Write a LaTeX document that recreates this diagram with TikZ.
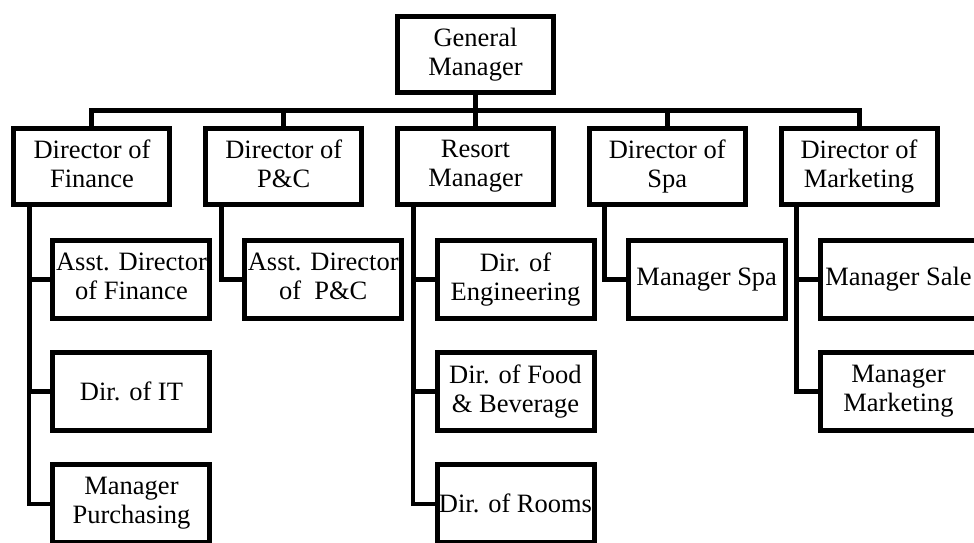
\documentclass[tikz,border=0pt]{standalone}
\usepackage{fontspec}
\setmainfont{Liberation Serif}
\usetikzlibrary{positioning}

\tikzset{
  box/.style={draw, line width=5pt, inner sep=0pt, align=center,
    font=\fontsize{26.5}{29}\selectfont},
  post/.style={box, minimum width=156pt, minimum height=76pt,
    execute at end node=\vphantom{g}},
  subline/.style={box, minimum width=157pt, minimum height=78pt},
  subpost/.style={subline, execute at end node=\vphantom{g}},
  wire/.style={line width=5pt},
}

\begin{document}
\begin{tikzpicture}
\useasboundingbox (-475.5pt,54.5pt) rectangle (498.5pt,-487.5pt);
\clip (-475.5pt,54.5pt) rectangle (498.5pt,-487.5pt);
\node[post] (gm) {General\\Manager};
\node[post, below=31pt of gm] (res) {Resort\\Manager};
\node[post, left=30.75pt of res] (pc) {Director of\\P\&C};
\node[post, left=30.75pt of pc] (fin) {Director of\\Finance};
\node[post, right=30.75pt of res] (spa) {Director of\\Spa};
\node[post, right=30.75pt of spa] (mkt) {Director of\\Marketing};
\node[subpost, below=31pt of fin, xshift=39.5pt] (fin1) {Asst. Director\\of Finance};
\node[subline, below=29pt of fin1] (fin2) {Dir. of IT};
\node[subpost, below=29pt of fin2] (fin3) {Manager\\Purchasing};
\node[subpost, below=31pt of pc, xshift=39.5pt] (pc1) {Asst. Director\\of\ \ P\&C};
\node[subpost, below=31pt of res, xshift=40pt] (res1) {Dir. of\\Engineering};
\node[subpost, below=29pt of res1] (res2) {Dir. of Food\\\& Beverage};
\node[subline, below=29pt of res2] (res3) {Dir. of Rooms};
\node[subline, below=31pt of spa, xshift=39.5pt] (spa1) {Manager Spa};
\node[subline, below=31pt of mkt, xshift=39.5pt] (mkt1) {Manager Sale};
\node[subpost, below=29pt of mkt1] (mkt2) {Manager\\Marketing};
\coordinate[below=15.5pt of gm] (bus);
\draw[wire] (gm.south) -- (bus);
\foreach \n in {fin,pc,res,spa,mkt}
  \draw[wire] (\n.north) |- (bus);
\draw[wire] ([xshift=18pt]fin.south west) |- (fin1.west);
\draw[wire] ([xshift=18pt]fin.south west) |- (fin2.west);
\draw[wire, line width=4pt] ([xshift=18pt]fin.south west) |- (fin3.west);
\draw[wire] ([xshift=18pt]pc.south west) |- (pc1.west);
\draw[wire] ([xshift=18pt]res.south west) |- (res1.west);
\draw[wire] ([xshift=18pt]res.south west) |- (res2.west);
\draw[wire, line width=4pt] ([xshift=18pt]res.south west) |- (res3.west);
\draw[wire] ([xshift=18pt]spa.south west) |- (spa1.west);
\draw[wire] ([xshift=18pt]mkt.south west) |- (mkt1.west);
\draw[wire] ([xshift=18pt]mkt.south west) |- (mkt2.west);
\end{tikzpicture}
\end{document}
